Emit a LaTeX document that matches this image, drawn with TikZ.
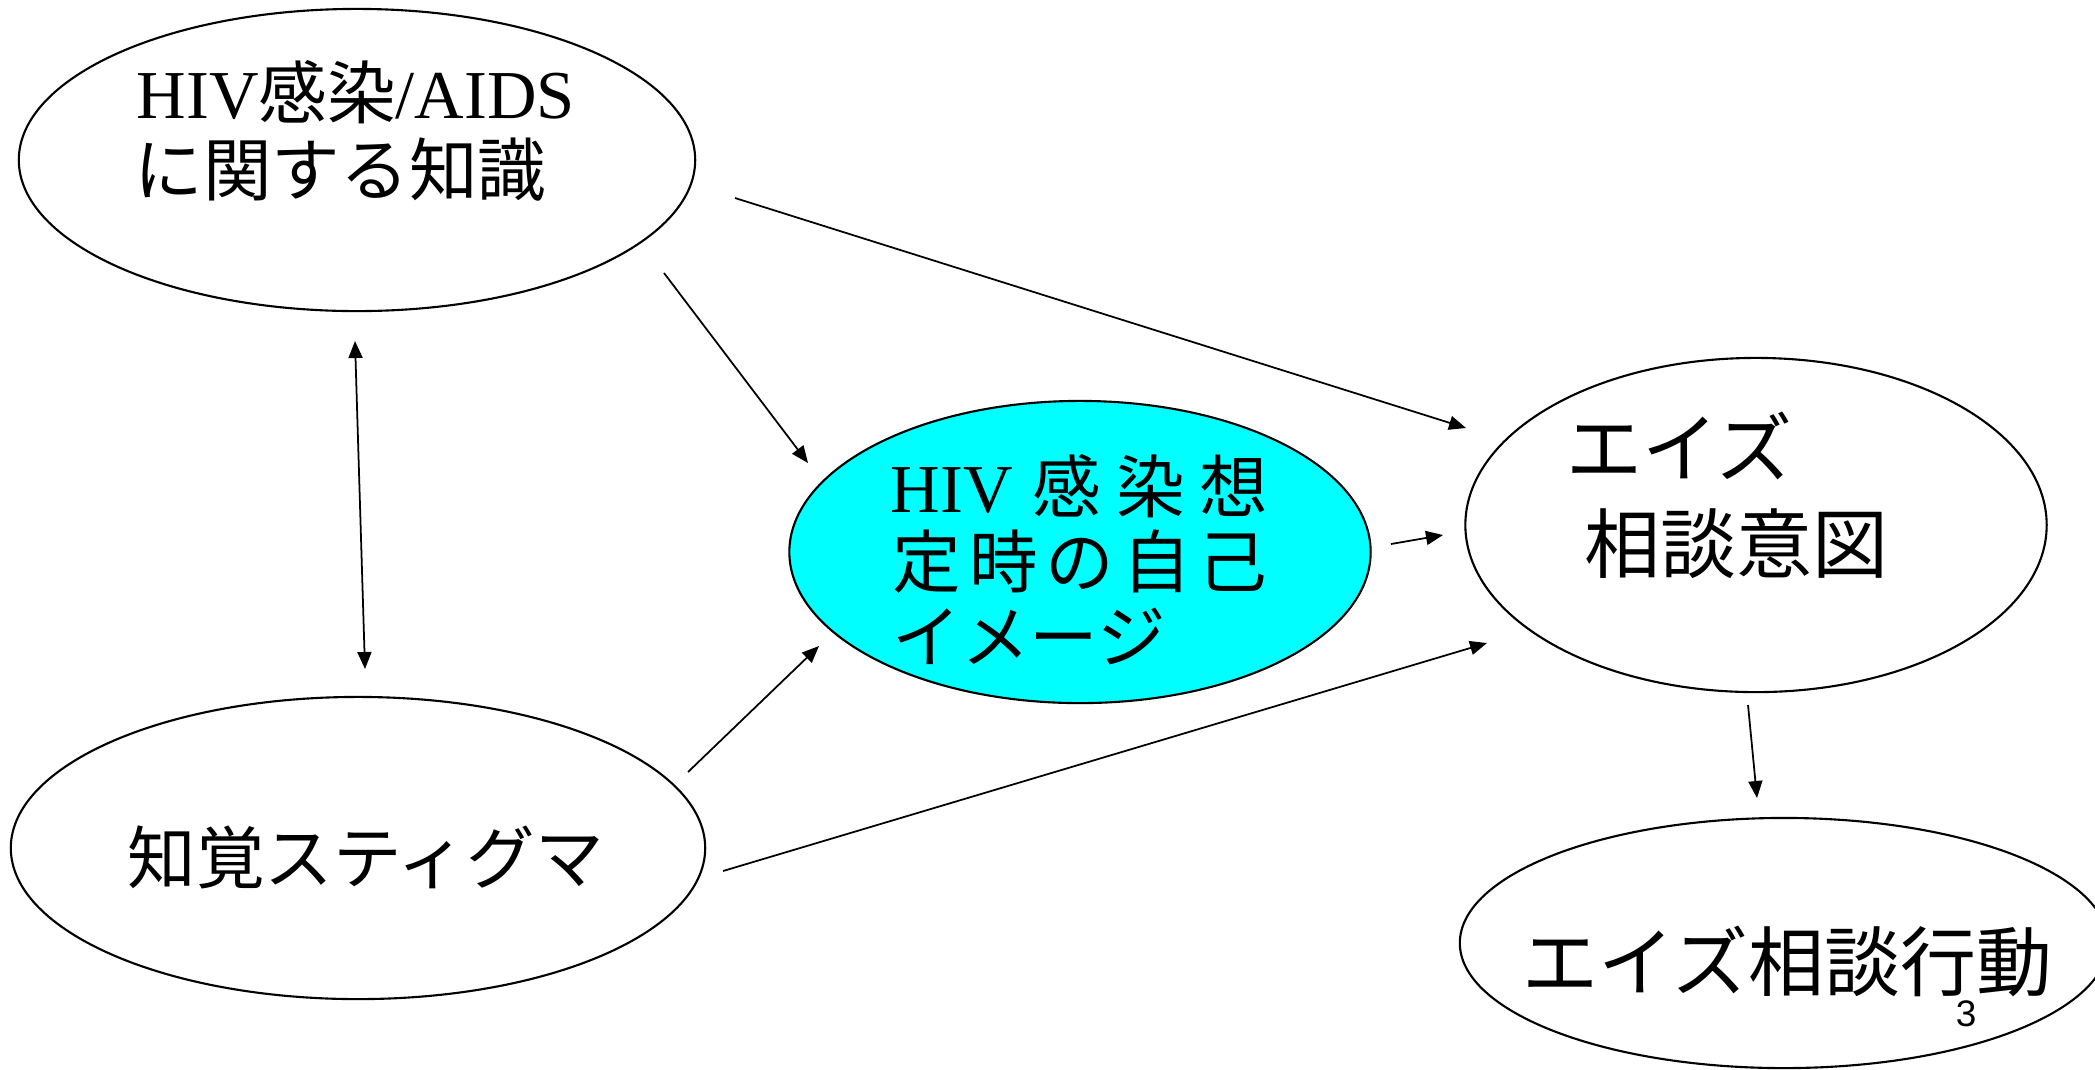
\documentclass[tikz,border=0pt]{standalone}
\usepackage{fontspec}
\setmainfont{Liberation Serif}
\newfontfamily\jp{Noto Sans CJK JP}
\newfontfamily\pgsans{Liberation Sans}
\usetikzlibrary{shapes.geometric,arrows.meta}
\begin{document}
\begin{tikzpicture}[x=0.01cm,y=-0.01cm,
  oval/.style={ellipse, draw, line width=0.6pt, inner sep=0pt},
  arr/.style={-{Triangle[length=0.17cm,width=0.14cm]}, line width=0.5pt},
  darr/.style={{Triangle[length=0.17cm,width=0.14cm]}-{Triangle[length=0.17cm,width=0.14cm]}, line width=0.5pt},
  lbl/.style={anchor=base west, inner sep=0pt, font=\fontsize{19.5}{23}\selectfont},
  big/.style={anchor=base west, inner sep=0pt, font=\fontsize{21.6}{26}\selectfont}]
\useasboundingbox (0,0) rectangle (2095,1069);
\clip (0,0) rectangle (2095,1069);
% ellipses
\node[oval, minimum width=6.76cm, minimum height=3.02cm] (K) at (357,160) {};
\node[oval, fill={rgb,255:red,0;green,255;blue,255}, minimum width=5.81cm, minimum height=3.02cm] (C) at (1080,552) {};
\node[oval, minimum width=5.81cm, minimum height=3.34cm] (I) at (1756,525) {};
\node[oval, minimum width=6.94cm, minimum height=3.02cm] (S) at (358,848) {};
\node[oval, minimum width=6.48cm, minimum height=2.50cm] (A) at (1784,943) {};
% texts
\node[lbl] (K1) at (136,118) {HIV{\jp 感染}/AIDS};
\node[lbl] (K2) at (134,195) {\jp に関する知識};
\node[lbl] (S1) at (127,883) {\jp 知覚スティグマ};
\node[lbl] (C1) at (890,512) {HIV\hspace{0.2cm}{\jp 感\hspace{0.15cm}染\hspace{0.15cm}想}};
\node[lbl] (C2) at (892,587) {\jp 定\hspace{0.08cm}時\hspace{0.08cm}の\hspace{0.08cm}自\hspace{0.08cm}己};
\node[lbl] (C3) at (892,662) {\jp イメージ};
\node[big] (I1) at (1566,476) {\jp エイズ};
\node[big] (I2) at (1584,572) {\jp 相談意図};
\node[big] (A1) at (1522,990) {\jp エイズ相談行動};
\node[inner sep=0pt, font=\pgsans\fontsize{10.5}{12}\selectfont] (pg) at (1966,1014) {3};
% connector end points
\coordinate (k1) at (735,198);  \coordinate (i1) at (1466,428);
\coordinate (k2) at (664,273);  \coordinate (c2) at (808,463);
\coordinate (k3) at (355,341);  \coordinate (s3) at (365,669);
\coordinate (s4) at (688,772);  \coordinate (c4) at (819,646);
\coordinate (s5) at (723,871);  \coordinate (i5) at (1487,643);
\coordinate (c6) at (1391,544); \coordinate (i6) at (1443,535);
\coordinate (i7) at (1748,705); \coordinate (a7) at (1757,798);
% connectors
\draw[arr] (k1) -- (i1);
\draw[arr] (k2) -- (c2);
\draw[darr] (k3) -- (s3);
\draw[arr] (s4) -- (c4);
\draw[arr] (s5) -- (i5);
\draw[arr] (c6) -- (i6);
\draw[arr] (i7) -- (a7);
\end{tikzpicture}
\end{document}
